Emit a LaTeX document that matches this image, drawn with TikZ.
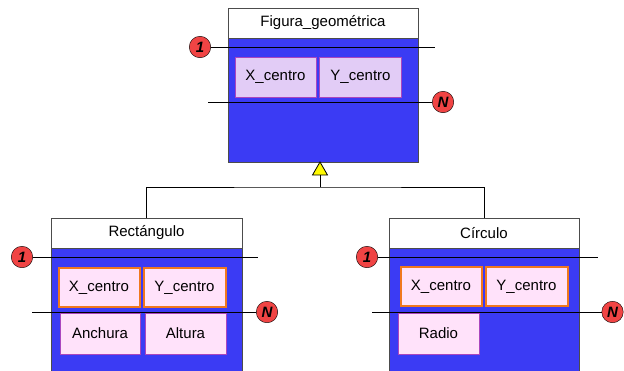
\documentclass[tikz,border=0pt]{standalone}
\usepackage{fontspec}
\setmainfont{Liberation Sans}
\usepackage{xcolor}
\usepackage{tikz}
\definecolor{bodyblue}{RGB}{59,59,244}
\definecolor{attlila}{RGB}{226,204,246}
\definecolor{attrosa}{RGB}{255,226,250}
\definecolor{bordelila}{RGB}{170,70,190}
\definecolor{bordenaranja}{RGB}{240,120,30}
\definecolor{rojo}{RGB}{240,68,68}
\definecolor{amarillo}{RGB}{255,250,0}

\begin{document}
\begin{tikzpicture}[x=1pt,y=-1pt,
    font=\fontsize{15}{17}\selectfont,
    cabecera/.style={draw=black!70, fill=white, rectangle, minimum width=190pt, minimum height=30pt, inner sep=0pt},
    cuerpo/.style={draw=black!70, fill=bodyblue, rectangle, minimum width=190pt, inner sep=0pt},
    atributo/.style={draw=bordelila, fill=attlila, rectangle, minimum height=40pt, inner sep=0pt},
    heredado/.style={draw=bordenaranja, line width=2pt, fill=attrosa, rectangle, minimum height=39pt, inner sep=0pt},
    propio/.style={draw=bordelila, fill=attrosa, rectangle, minimum height=41pt, inner sep=0pt},
    multi/.style={draw=black, fill=rojo, circle, minimum size=21.5pt, inner sep=0pt, font=\fontsize{15}{17}\selectfont\bfseries\itshape},
    linea/.style={draw=black, line width=0.9pt}]
    \useasboundingbox (0,0) rectangle (624,370);

    % Figura geometrica
    \node[cabecera] (fig) at (323,23) {Figura\_geométrica};
    \node[cuerpo, minimum height=124pt] (figc) at (323,100) {};
    \node[atributo, minimum width=81pt] (fx) at (275.5,77) {X\_centro};
    \node[atributo, minimum width=82pt] (fy) at (360.5,77) {Y\_centro};
    \node[multi] (funo) at (200,47) {1};
    \coordinate (funo2) at (435,47);
    \draw[linea] (funo) -- (funo2);
    \coordinate (fn1) at (208,102);
    \node[multi] (fn) at (443,102) {N};
    \draw[linea] (fn1) -- (fn);

    % Rectangulo
    \node[cabecera, minimum width=191pt] (rec) at (146.5,233) {Rectángulo};
    \node[cuerpo, minimum width=191pt, minimum height=130pt] (recc) at (146.5,313) {};
    \node[heredado, minimum width=81pt] (rx) at (99,287.5) {X\_centro};
    \node[heredado, minimum width=82pt] (ry) at (184.5,287.5) {Y\_centro};
    \node[propio, minimum width=80pt] (rw) at (100,333.5) {Anchura};
    \node[propio, minimum width=81pt] (rh) at (185.5,333.5) {Altura};
    \node[multi] (runo) at (22,257) {1};
    \coordinate (runo2) at (258,257);
    \draw[linea] (runo) -- (runo2);
    \coordinate (rn1) at (32,312);
    \node[multi] (rn) at (267,312) {N};
    \draw[linea] (rn1) -- (rn);

    % Circulo
    \node[cabecera] (cir) at (484,233) {Círculo};
    \node[cuerpo, minimum height=130pt] (circ) at (484,313) {};
    \node[heredado, minimum width=81pt] (cx) at (441,286.5) {X\_centro};
    \node[heredado, minimum width=82pt] (cy) at (526.5,286.5) {Y\_centro};
    \node[propio, minimum width=81pt] (cr) at (438.5,333.5) {Radio};
    \node[multi] (cuno) at (367,257) {1};
    \coordinate (cuno2) at (598,257);
    \draw[linea] (cuno) -- (cuno2);
    \coordinate (cn1) at (372,312);
    \node[multi] (cn) at (612.5,312) {N};
    \draw[linea] (cn1) -- (cn);

    % Herencia
    \draw[black, line width=0.8pt, fill=amarillo] (320,162) -- (327.5,175) -- (312.5,175) -- cycle;
    \coordinate (her) at (320,175);
    \coordinate (union) at (320,187);
    \draw[linea] (her) -- (union);
    \draw[linea] (rec.north) |- (union) -| (cir.north);
\end{tikzpicture}
\end{document}
